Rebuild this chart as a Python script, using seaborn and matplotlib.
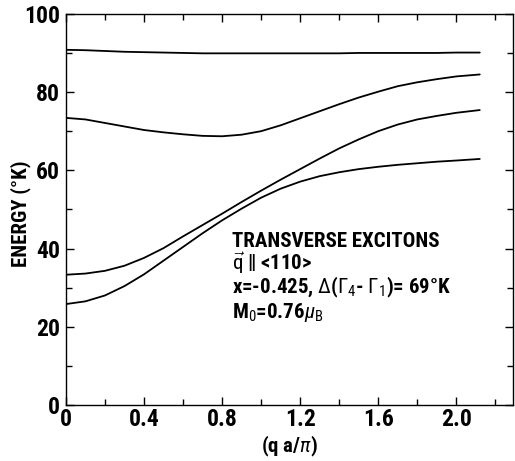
import matplotlib
matplotlib.use("Agg")
import matplotlib.pyplot as plt
from matplotlib import font_manager
from matplotlib.ticker import MultipleLocator
import seaborn as sns
import pandas as pd

q = [0.0, 0.1, 0.2, 0.3, 0.4, 0.5, 0.6, 0.7, 0.8, 0.9, 1.0, 1.1, 1.2, 1.3, 1.4,
     1.5, 1.6, 1.7, 1.8, 1.9, 2.0, 2.12]
branch_1 = [90.8, 90.7, 90.5, 90.3, 90.2, 90.1, 90.0, 89.9, 89.9, 89.9, 89.9, 89.9,
            89.9, 89.9, 89.9, 90.0, 90.0, 90.0, 90.0, 90.0, 90.1, 90.1]
branch_2 = [73.4, 73.0, 72.1, 71.2, 70.3, 69.7, 69.2, 68.8, 68.7, 69.1, 70.0, 71.5,
            73.3, 75.1, 76.9, 78.6, 80.1, 81.5, 82.5, 83.3, 84.0, 84.5]
branch_3 = [33.3, 33.6, 34.3, 35.6, 37.6, 40.1, 43.1, 46.0, 48.9, 51.9, 54.8, 57.6,
            60.3, 63.0, 65.6, 67.9, 70.0, 71.7, 73.0, 73.9, 74.7, 75.4]
branch_4 = [25.8, 26.5, 28.0, 30.4, 33.4, 36.9, 40.4, 43.9, 47.2, 50.2, 53.0, 55.3,
            57.1, 58.5, 59.5, 60.3, 60.9, 61.4, 61.8, 62.2, 62.5, 62.9]

x_ticks = [0, 0.4, 0.8, 1.2, 1.6, 2.0]
x_tick_labels = ["0", "0.4", "0.8", "1.2", "1.6", "2.0"]
y_ticks = [0, 20, 40, 60, 80, 100]

rows = []
for name, vals in [("1", branch_1), ("2", branch_2), ("3", branch_3), ("4", branch_4)]:
    for qq, v in zip(q, vals):
        rows.append({"q": qq, "E": v, "branch": name})
df = pd.DataFrame(rows)

sns.set_theme(style="ticks")
names = {f.name for f in font_manager.fontManager.ttflist}
fam = "DejaVu Sans"
for cand in ["Liberation Sans Narrow", "Roboto Condensed", "Open Sans Condensed", "Roboto"]:
    if cand in names:
        fam = cand
        break
plt.rcParams["font.family"] = [fam, "DejaVu Sans"]
plt.rcParams["mathtext.fontset"] = "custom"
plt.rcParams["mathtext.rm"] = fam
plt.rcParams["mathtext.it"] = fam + ":italic"
plt.rcParams["mathtext.bf"] = fam + ":bold"
plt.rcParams["text.color"] = "black"
plt.rcParams["axes.labelcolor"] = "black"

fig = plt.figure(figsize=(5.15, 4.61), dpi=100)
ax = fig.add_axes([0.128, 0.1215, 0.868, 0.8485])

for b in ["1", "2", "3", "4"]:
    sns.lineplot(data=df[df.branch == b], x="q", y="E", ax=ax, color="black",
                 linewidth=1.3, legend=False)

ax.set_xlim(0, 2.29)
ax.set_ylim(0, 100)
ax.set_xticks(x_ticks)
ax.set_xticklabels(x_tick_labels)
ax.set_yticks(y_ticks)
ax.xaxis.set_minor_locator(MultipleLocator(0.2))
ax.yaxis.set_minor_locator(MultipleLocator(10))
ax.tick_params(which="both", direction="in", top=True, right=True, colors="black",
               labelcolor="black", labelsize=17, width=1.0)
ax.tick_params(which="major", length=6)
ax.tick_params(which="minor", length=4)
for lab in ax.get_xticklabels() + ax.get_yticklabels():
    lab.set_fontweight("bold")
ax.tick_params(axis="x", pad=2)
ax.tick_params(axis="y", pad=4)
for s in ax.spines.values():
    s.set_color("black")
    s.set_linewidth(1.0)

ax.set_xlabel(r"(q a/$\pi$)", fontsize=15, fontweight="bold", labelpad=2)
ax.set_ylabel("ENERGY (°K)", fontsize=15, fontweight="bold")
ax.yaxis.set_label_coords(-0.078, 0.49)

tx = 0.85
fs = 15
ax.text(tx, 40.3, "TRANSVERSE EXCITONS", fontsize=fs, fontweight="bold")
ax.text(tx, 34.6, r"$\vec{\mathrm{q}}$ ‖ <110>", fontsize=fs, fontweight="bold")
ax.text(tx, 28.6, r"x=-0.425, $\Delta$($\Gamma_4$- $\Gamma_1$)= 69°K", fontsize=fs, fontweight="bold")
ax.text(tx, 22.2, r"M$_0$=0.76$\mu_\mathrm{B}$", fontsize=fs, fontweight="bold")

fig.savefig("out.png", dpi=100)
